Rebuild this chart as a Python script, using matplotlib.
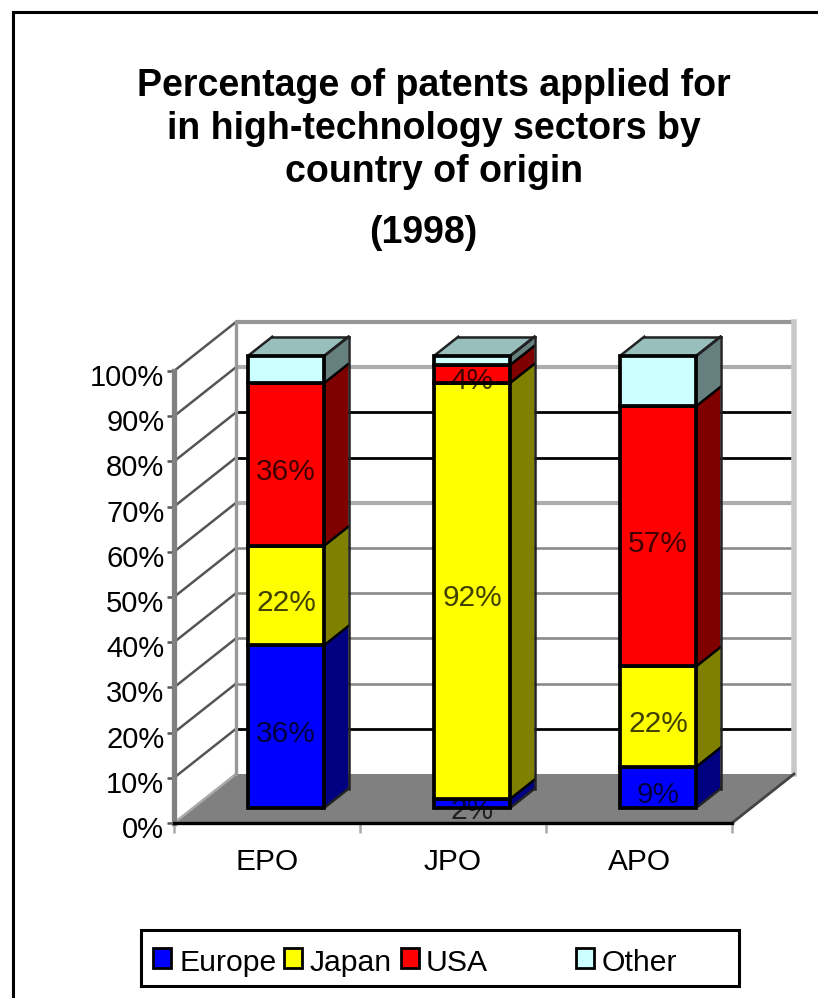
import matplotlib
matplotlib.use('Agg')
import matplotlib.pyplot as plt
from matplotlib.lines import Line2D
from matplotlib.patches import Rectangle
from matplotlib.transforms import ScaledTranslation

plt.rcParams['font.family'] = ['Liberation Sans', 'DejaVu Sans']

# data (each bar is stretched to 100%)
offices = ['EPO', 'JPO', 'APO']
regions = ['Europe', 'Japan', 'USA', 'Other']
europe = [36, 2, 9]
japan = [22, 92, 22]
usa = [36, 4, 57]
other = [6, 2, 11]
# printed labels, None where the chart shows none
label_europe = ['36%', '2%', '9%']
label_japan = ['22%', '92%', '22%']
label_usa = ['36%', '4%', '57%']
label_other = [None, None, None]
pct_ticks = list(range(0, 101, 10))

front_colors = ['#0000ff', '#ffff00', '#ff0000', '#ccffff']
side_colors = ['#000080', '#808000', '#800000', '#668080']
top_color = '#99bfbd'

W, H = 818, 998
fig = plt.figure(figsize=(W / 100, H / 100), dpi=100)
# front plane of the box: x 174-732 px, 0% at y=823, 100% at y=371
ax = fig.add_axes([174 / W, 1 - 823 / H, 558 / W, 452 / H])
ax.set_xlim(0, 3)
ax.set_ylim(0, 100)
ax.patch.set_visible(False)

DX = 62 / 186  # depth of the box in x units
DY = 49 / 4.52  # depth of the box in % units


def pt(x, y, d):
    return x + d * DX, y + d * DY


def poly(points, **kw):
    xs, ys = zip(*points)
    ax.fill(xs, ys, clip_on=False, **kw)


# floor and walls
poly([pt(0, 0, 0), pt(3, 0, 0), pt(3, 0, 1), pt(0, 0, 1)], color='#808080', lw=0, zorder=1)
# the reference is a shrunken screenshot, so its gridlines came out in different greys
grid_colors = ['#c8c8c8', 'black', '#8a8a8a', '#8a8a8a', '#8a8a8a', '#8a8a8a',
               '#adadad', 'black', 'black', '#adadad', '#969696']
grid_widths = [2.4, 2.0, 1.9, 1.9, 1.9, 1.9, 3.0, 2.0, 2.0, 3.0, 3.0]
for v, c, w in zip(pct_ticks, grid_colors, grid_widths):
    x0, y0 = pt(0, v, 0)
    x1, y1 = pt(0, v, 1)
    x2, y2 = pt(3, v, 1)
    if v > 0:
        ax.plot([x1, x2], [y1, y2], color=c, lw=w, clip_on=False, zorder=2, solid_capstyle='butt')
    ax.plot([x0, x1], [y0, y1], color='#555555' if v else '#aaaaaa', lw=1.8, clip_on=False, zorder=2)
# wall edges
bx, by0 = pt(0, 0, 1)
_, by1 = pt(0, 100, 1)
ax.plot([bx, bx], [by0, by1], color='#999999', lw=2.4, clip_on=False, zorder=2)
rx, _ = pt(3, 0, 1)
ax.plot([rx, rx], [by0, by1], color='#c8c8c8', lw=4.0, clip_on=False, zorder=2)
ax.plot([pt(3, 0, 0)[0], rx], [0, by0], color='#444444', lw=2.0, clip_on=False, zorder=2)

# bars
BAR_W = 0.41
D0, D1 = 0.31, 0.70
series = [europe, japan, usa, other]
labels = [label_europe, label_japan, label_usa, label_other]
for i, name in enumerate(offices):
    vals = [s[i] for s in series]
    total = sum(vals)
    left = i + 0.5 - BAR_W / 2
    right = i + 0.5 + BAR_W / 2
    bottom = 0
    for k, v in enumerate(vals):
        top = bottom + v * 100 / total
        poly([pt(right, bottom, D0), pt(right, bottom, D1), pt(right, top, D1), pt(right, top, D0)],
             facecolor=side_colors[k], edgecolor='none', zorder=3)
        ax.plot(*zip(pt(right, top, D0), pt(right, top, D1)), color='black', lw=1.8, clip_on=False, zorder=4)
        poly([pt(left, bottom, D0), pt(right, bottom, D0), pt(right, top, D0), pt(left, top, D0)],
             facecolor=front_colors[k], edgecolor='black', lw=2.7, zorder=5, joinstyle='miter')
        if labels[k][i]:
            cx, cy = pt(i + 0.5, (bottom + top) / 2, D0)
            ax.annotate(labels[k][i], (cx, cy), xytext=(0, -5.4), textcoords='offset points',
                        ha='center', va='center', fontsize=21.5, color='black', alpha=0.75,
                        zorder=6, annotation_clip=False)
        bottom = top
    poly([pt(left, 100, D0), pt(right, 100, D0), pt(right, 100, D1), pt(left, 100, D1)],
         facecolor=top_color, edgecolor='none', zorder=3)
    for a, b in [(pt(left, 100, D0), pt(left, 100, D1)), (pt(left, 100, D1), pt(right, 100, D1)),
                 (pt(right, 100, D0), pt(right, 100, D1)), (pt(right, 100, D1), pt(right, 0, D1))]:
        ax.plot(*zip(a, b), color='#222222', lw=1.8, clip_on=False, zorder=4)
    ax.plot(*zip(pt(right, 0, D0), pt(right, 0, D1)), color='#222222', lw=1.8, clip_on=False, zorder=4)

# axes
for s in ['top', 'right']:
    ax.spines[s].set_visible(False)
ax.spines['bottom'].set_linewidth(2.4)
ax.spines['bottom'].set_zorder(2.5)
ax.spines['left'].set_linewidth(3.8)
ax.spines['left'].set_color('#808080')
ax.set_yticks(pct_ticks, [f'{v}%' for v in pct_ticks])
ax.set_xticks([0, 1, 2, 3], [])
ax.set_xticks([0.5, 1.5, 2.5], offices, minor=True)
ax.tick_params(axis='y', labelsize=21, length=5, width=1.8, pad=2, color='#555555')
ax.tick_params(axis='x', which='major', length=7, width=1.8, color='#aaaaaa')
ax.tick_params(axis='x', which='minor', length=0, labelsize=21.5, pad=18)
# tick labels sit a few pixels below their ticks in the reference
shift = ScaledTranslation(0, -4 / 100, fig.dpi_scale_trans)
for t in ax.get_yticklabels():
    t.set_transform(t.get_transform() + shift)

# title
title_lines = ['Percentage of patents applied for', 'in high-technology sectors by', 'country of origin']
for line, y in zip(title_lines, [86, 129, 172]):
    fig.text(434 / W, 1 - y / H, line, ha='center', va='center', fontsize=27, fontweight='bold')
fig.text(423 / W, 1 - 233 / H, '(1998)', ha='center', va='center', fontsize=27, fontweight='bold')

# legend
fig.add_artist(Rectangle((141 / W, 1 - 986 / H), 598 / W, 56 / H, transform=fig.transFigure,
                         facecolor='white', edgecolor='black', lw=2.2))
swatch_x = [153, 284, 401, 576]
text_x = [179, 310, 426, 602]
for name, c, sx, tx in zip(regions, front_colors, swatch_x, text_x):
    fig.add_artist(Rectangle((sx / W, 1 - 968 / H), 18 / W, 20 / H, transform=fig.transFigure,
                             facecolor=c, edgecolor='black', lw=2.0))
    fig.text(tx / W, 1 - 963 / H, name, ha='left', va='center', fontsize=21.7)

# outer frame
fig.add_artist(Line2D([13 / W, 13 / W], [0, 1 - 12 / H], color='black', lw=2.2, transform=fig.transFigure))
fig.add_artist(Line2D([13 / W, 1], [1 - 12 / H, 1 - 12 / H], color='black', lw=2.2, transform=fig.transFigure))

fig.savefig('out.png', dpi=100, facecolor='white')
plt.close(fig)
